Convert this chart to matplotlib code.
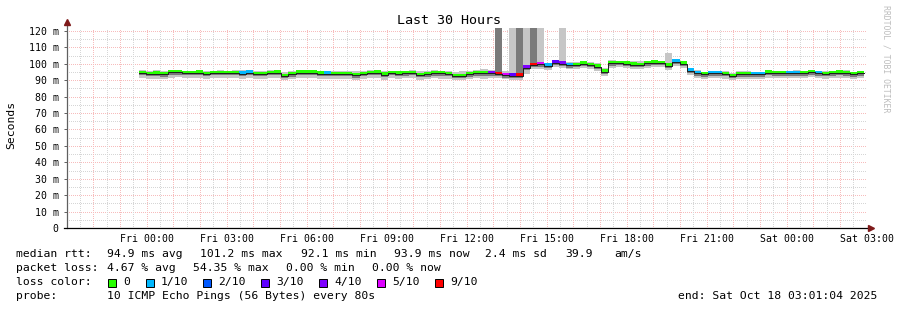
import numpy as np
import matplotlib
matplotlib.use("Agg")
import matplotlib.pyplot as plt
from matplotlib.patches import Rectangle

# --- data (hours relative to Fri 00:00, 16 min steps) ---
t_first = -0.28
step_h = 960 / 3600.0

med = [
    94.4, 93.8, 94.0, 93.6, 94.8, 94.8, 94.3, 94.3, 94.6, 93.8,
    94.3, 94.3, 94.3, 94.3, 93.9, 94.6, 93.8, 93.8, 94.3, 94.6,
    92.6, 93.6, 94.6, 94.6, 94.6, 93.9, 94.1, 93.8, 93.8, 93.8,
    92.9, 93.8, 94.3, 94.6, 93.3, 94.3, 94.0, 94.2, 94.4, 93.2,
    93.6, 94.2, 94.2, 93.8, 92.6, 92.6, 93.6, 94.2, 94.2, 94.2,
    93.8, 93.0, 92.8, 92.8, 97.5, 99.3, 99.7, 98.7, 100.7, 100.0,
    99.1, 99.3, 100.0, 99.3, 98.3, 95.3, 100.3, 100.4, 100.0, 99.4,
    99.3, 100.2, 100.7, 100.4, 98.7, 101.3, 100.0, 95.8, 94.2, 93.6,
    94.2, 94.2, 93.8, 92.6, 93.6, 93.6, 93.6, 93.6, 94.6, 94.2,
    94.2, 94.2, 94.2, 94.2, 94.8, 94.2, 93.8, 94.2, 94.6, 94.2,
    93.6, 94.2,
]

smoke_lo = [
    91.4, 90.8, 91.0, 90.6, 91.6, 91.8, 91.2, 91.2, 91.4, 90.8,
    91.2, 91.2, 91.2, 91.2, 91.0, 91.4, 90.6, 90.8, 91.2, 91.4,
    90.0, 90.6, 91.4, 91.6, 91.4, 90.8, 91.0, 90.6, 90.8, 90.6,
    90.2, 90.8, 91.2, 91.4, 90.4, 91.2, 91.0, 91.2, 91.2, 90.2,
    90.6, 91.2, 91.0, 90.6, 90.0, 90.0, 90.6, 91.2, 91.0, 91.2,
    91.2, 90.6, 90.2, 90.2, 94.0, 96.6, 97.0, 96.4, 98.0, 97.4,
    96.6, 96.8, 97.4, 96.8, 95.8, 92.8, 97.6, 97.8, 97.4, 96.8,
    96.6, 97.4, 98.0, 97.8, 96.2, 98.4, 97.2, 93.0, 91.2, 90.8,
    91.2, 91.2, 90.8, 90.0, 90.8, 90.8, 90.8, 90.8, 91.6, 91.2,
    91.2, 91.2, 91.2, 91.2, 91.8, 91.2, 90.8, 91.2, 91.4, 91.2,
    90.8, 91.2,
]

smoke_hi = [
    96.0, 95.8, 96.4, 95.4, 96.2, 96.0, 95.8, 95.8, 96.2, 95.6,
    95.8, 96.0, 95.8, 96.4, 96.2, 96.0, 95.4, 95.6, 96.0, 96.0,
    95.2, 95.6, 96.4, 96.0, 96.0, 95.8, 95.8, 95.6, 95.6, 95.8,
    95.4, 95.8, 96.2, 96.0, 95.6, 95.8, 95.6, 95.8, 96.2, 95.4,
    95.8, 96.2, 95.8, 95.6, 95.0, 95.4, 95.6, 96.4, 96.8, 96.2,
    125, 95.4, 125, 125, 125, 125, 125, 100.6, 102.0, 125,
    101.2, 101.0, 101.6, 101.2, 100.2, 97.2, 102.2, 102.0, 101.6, 101.6,
    101.6, 101.8, 102.2, 102.0, 106.6, 102.6, 101.6, 97.6, 96.0, 95.2,
    95.6, 95.6, 95.6, 94.6, 95.4, 95.8, 95.2, 95.2, 96.0, 95.8,
    95.6, 95.8, 96.0, 95.6, 96.0, 95.8, 95.4, 95.8, 95.8, 96.0,
    95.2, 95.8,
]

core_lo = [
    93.0, 92.4, 92.6, 92.2, 93.4, 93.4, 92.9, 92.9, 93.2, 92.4,
    92.9, 92.9, 92.9, 92.9, 92.5, 93.2, 92.4, 92.4, 92.9, 93.2,
    91.2, 92.2, 93.2, 93.2, 93.2, 92.5, 92.7, 92.4, 92.4, 92.4,
    91.5, 92.4, 92.9, 93.2, 91.9, 92.9, 92.6, 92.8, 93.0, 91.8,
    92.2, 92.8, 92.8, 92.4, 91.2, 91.2, 92.2, 92.8, 92.8, 92.8,
    92.4, 91.6, 91.4, 91.4, 96.1, 97.9, 98.3, 97.3, 99.3, 98.6,
    97.7, 97.9, 98.6, 97.9, 96.9, 93.9, 98.9, 99.0, 98.6, 98.0,
    97.9, 98.8, 99.3, 99.0, 97.3, 99.9, 98.6, 94.4, 92.8, 92.2,
    92.8, 92.8, 92.4, 91.2, 92.2, 92.2, 92.2, 92.2, 93.2, 92.8,
    92.8, 92.8, 92.8, 92.8, 93.4, 92.8, 92.4, 92.8, 93.2, 92.8,
    92.2, 92.8,
]

core_hi = [
    95.1, 94.5, 94.7, 94.3, 95.5, 95.5, 95.0, 95.0, 95.3, 94.5,
    95.0, 95.0, 95.0, 95.0, 94.6, 95.3, 94.5, 94.5, 95.0, 95.3,
    93.3, 94.3, 95.3, 95.3, 95.3, 94.6, 94.8, 94.5, 94.5, 94.5,
    93.6, 94.5, 95.0, 95.3, 94.0, 95.0, 94.7, 94.9, 95.1, 93.9,
    94.3, 94.9, 94.9, 94.5, 93.3, 93.3, 94.3, 94.9, 94.9, 94.9,
    125, 93.7, 93.5, 125, 98.2, 125, 100.4, 99.4, 101.4, 100.7,
    99.8, 100.0, 100.7, 100.0, 99.0, 96.0, 101.0, 101.1, 100.7, 100.1,
    100.0, 100.9, 101.4, 101.1, 99.4, 102.0, 100.7, 96.5, 94.9, 94.3,
    94.9, 94.9, 94.5, 93.3, 94.3, 94.3, 94.3, 94.3, 95.3, 94.9,
    94.9, 94.9, 94.9, 94.9, 95.5, 94.9, 94.5, 94.9, 95.3, 94.9,
    94.3, 94.9,
]

loss = [
    0, 0, 0, 0, 0, 0, 0, 0, 0, 0,
    0, 0, 0, 0, 1, 1, 0, 0, 0, 0,
    0, 0, 0, 0, 0, 0, 1, 0, 0, 0,
    0, 0, 0, 0, 0, 0, 0, 0, 0, 0,
    0, 0, 0, 0, 0, 0, 0, 0, 0, 4,
    9, 5, 3, 9, 4, 9, 5, 1, 3, 4,
    1, 0, 0, 0, 0, 0, 0, 0, 0, 0,
    0, 0, 0, 0, 0, 1, 0, 1, 1, 0,
    1, 1, 0, 0, 0, 0, 1, 1, 0, 0,
    0, 1, 1, 0, 0, 1, 0, 0, 0, 0,
    0, 0,
]

loss_levels = [0, 1, 2, 3, 4, 5, 9]
loss_labels = ["0", "1/10", "2/10", "3/10", "4/10", "5/10", "9/10"]
loss_colors = ["#26ff00", "#00b8ff", "#0059ff", "#5e00ff", "#7e00ff", "#dd00ff", "#ff0000"]

y_ticks = [0, 10, 20, 30, 40, 50, 60, 70, 80, 90, 100, 110, 120]
y_labels = ["0"] + ["%d m" % v for v in y_ticks[1:]]
x_ticks = [0, 3, 6, 9, 12, 15, 18, 21, 24, 27]
x_labels = ["Fri 00:00", "Fri 03:00", "Fri 06:00", "Fri 09:00", "Fri 12:00",
            "Fri 15:00", "Fri 18:00", "Fri 21:00", "Sat 00:00", "Sat 03:00"]

x_end = 27 + 64 / 3600.0
x_start = x_end - 30

plt.rcParams['font.family'] = ['DejaVu Sans Mono']

W, H = 897, 310
fig = plt.figure(figsize=(W / 100, H / 100), dpi=100)
ax = fig.add_axes([67 / W, 82 / H, 800 / W, 200.3 / H])
ax.set_xlim(x_start, x_end)
ax.set_ylim(0, 122)

# grid, dotted 1px on / 1px off
dot = (0, (1, 1.4))
major_c, minor_c = "#f7bcbc", "#d6d6d6"
for v in np.arange(5, 122, 5):
    major = v % 10 == 0
    ax.axhline(v, color=major_c if major else minor_c, lw=0.72, ls=dot,
               antialiased=False, zorder=0)
for h in np.arange(np.ceil(x_start * 2) / 2, x_end, 0.5):
    major = float(h).is_integer()
    ax.axvline(h, color=major_c if major else minor_c, lw=0.72, ls=dot,
               antialiased=False, zorder=0)

n = len(med)
t = t_first + np.arange(n) * step_h
med_a = np.array(med)
lo_a, hi_a = np.array(smoke_lo), np.array(smoke_hi)
clo_a, chi_a = np.array(core_lo), np.array(core_hi)

ax.bar(t, hi_a - lo_a, bottom=lo_a, width=step_h, align="edge",
       color="#c6c6c6", linewidth=0, antialiased=False, zorder=2)
ax.bar(t, chi_a - clo_a, bottom=clo_a, width=step_h, align="edge",
       color="#7a7a7a", linewidth=0, antialiased=False, zorder=3)

cmap = dict(zip(loss_levels, loss_colors))
ax.bar(t, 1.8, bottom=med_a - 0.3, width=step_h, align="edge",
       color=[cmap[l] for l in loss], linewidth=0, antialiased=False, zorder=4)
ax.step(np.append(t, t[-1] + step_h), np.append(med_a, med_a[-1]), where="post",
        color="#202020", lw=0.72, zorder=5)

# axes
for s in ["top", "right", "left", "bottom"]:
    ax.spines[s].set_visible(False)
ax.plot([x_start, x_start], [0, 125.3], color="#606060", lw=0.9, clip_on=False, zorder=6)
ax.plot([x_start - 0.1, x_end + 0.1], [0, 0], color="black", lw=0.9, clip_on=False, zorder=6)
ax.plot([x_start], [125.3], marker="^", color="#7f1a1a", ms=4, clip_on=False, zorder=7)
ax.plot([x_end + 0.15], [0], marker=">", color="#7f1a1a", ms=4, clip_on=False, zorder=7)

ax.set_yticks(y_ticks)
ax.set_yticklabels(y_labels)
ax.set_xticks(x_ticks)
ax.set_xticklabels(x_labels)
ax.tick_params(axis="y", length=2, width=0.7, color="#606060", pad=4, labelsize=7.1)
ax.tick_params(axis="x", length=0, pad=4.5, labelsize=7.1)

fig.text(0.5, 1 - 20 / H, "Last 30 Hours", ha="center", va="center", fontsize=9.6)
fig.text(11 / W, 1 - 125 / H, "Seconds", rotation=90, ha="center", va="center", fontsize=8.2)
fig.text(886 / W, 1 - 59 / H, "RRDTOOL / TOBI OETIKER", rotation=270, ha="center",
         va="center", fontsize=5.9, color="#bdbdbd")

def txt(x, y, s):
    fig.text(x / W, 1 - y / H, s, ha="left", va="center", fontsize=8.2)

txt(16, 254, "median rtt:")
txt(107, 254, "94.9 ms avg")
txt(200, 254, "101.2 ms max")
txt(301, 254, "92.1 ms min")
txt(394, 254, "93.9 ms now")
txt(485, 254, "2.4 ms sd")
txt(565, 254, "39.9")
txt(614, 254, "am/s")

txt(16, 268, "packet loss:")
txt(107, 268, "4.67 % avg")
txt(193, 268, "54.35 % max")
txt(286, 268, "0.00 % min")
txt(372, 268, "0.00 % now")

txt(16, 282, "loss color:")
box_x = [108, 146, 203, 261, 319, 377, 435]
for bx, lab, col in zip(box_x, loss_labels, loss_colors):
    fig.add_artist(Rectangle((bx / W, 1 - 287 / H), 8 / W, 8 / H, transform=fig.transFigure,
                             facecolor=col, edgecolor="black", lw=0.7))
    txt(bx + 15, 282, lab)

txt(16, 296, "probe:")
txt(107, 296, "10 ICMP Echo Pings (56 Bytes) every 80s")
txt(678, 296, "end: Sat Oct 18 03:01:04 2025")

fig.savefig("out.png", dpi=100)
